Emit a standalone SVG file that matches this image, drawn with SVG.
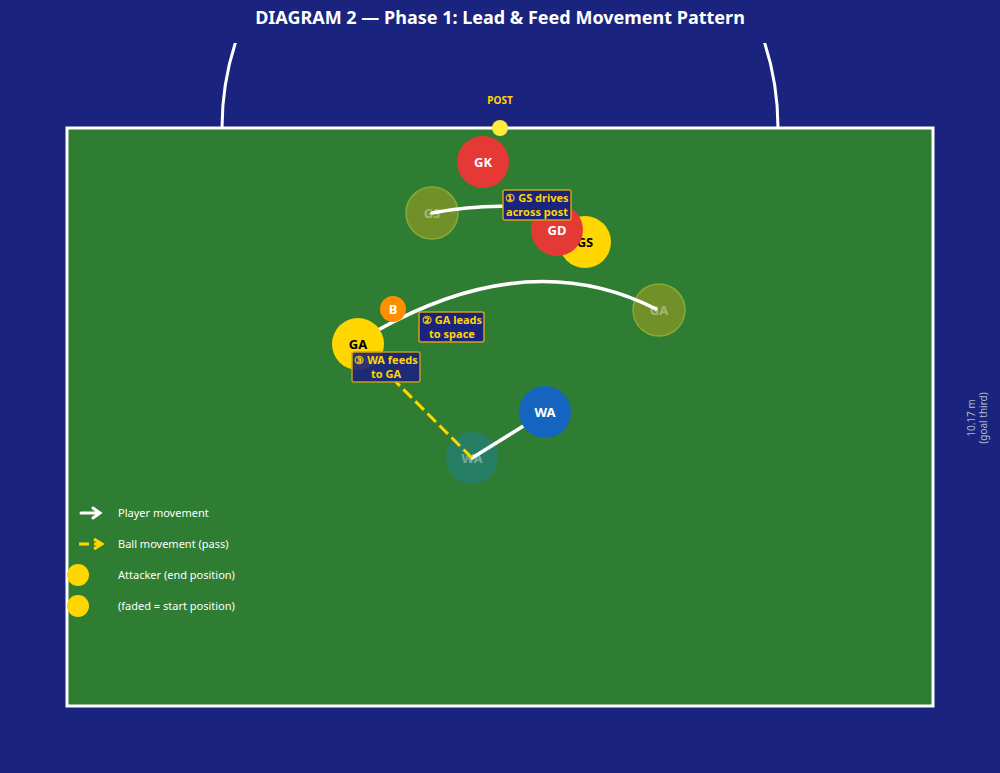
<svg xmlns="http://www.w3.org/2000/svg" width="1000" height="773" viewBox="0 0 1000 773">
<defs>
<style>
text{font-family:"Noto Sans","Open Sans",sans-serif}
.lbl{font-weight:bold;font-size:13px;text-anchor:middle;dominant-baseline:central}
.mv{fill:none;stroke:#fff;stroke-width:3.5;stroke-linecap:round}
.tag{fill:#1a237e;stroke:#d4a017;stroke-width:1.5}
.tt{fill:#ffd600;font-weight:bold;font-size:11px;text-anchor:middle}
.leg{fill:#fff;font-size:11px}
</style>
<clipPath id="c"><rect x="0" y="43" width="1000" height="90"/></clipPath>
</defs>
<rect width="1000" height="773" fill="#1a237e"/>
<text x="500" y="24" text-anchor="middle" fill="#fff" font-weight="bold" font-size="18">DIAGRAM 2 — Phase 1: Lead &amp; Feed Movement Pattern</text>
<circle cx="500" cy="128" r="278" fill="none" stroke="#fff" stroke-width="3" clip-path="url(#c)"/>
<rect x="67" y="128" width="866" height="578" fill="#2e7d32" stroke="#fff" stroke-width="3"/>
<text x="500" y="104" text-anchor="middle" fill="#ffd600" font-weight="bold" font-size="10">POST</text>
<circle cx="500" cy="128" r="8" fill="#ffeb3b"/>
<text transform="translate(975,418) rotate(-90)" text-anchor="middle" fill="#b0bec5" font-size="10"><tspan x="0" y="0">10.17 m</tspan><tspan x="0" y="12">(goal third)</tspan></text>
<g id="start-gs"><circle cx="432" cy="213" r="26" fill="#9e9d24" opacity="0.6" stroke="#c0ca33" stroke-width="1.5"/><text class="lbl" x="432" y="213" fill="#fff" opacity="0.35">GS</text></g>
<g id="start-ga"><circle cx="659" cy="310" r="26" fill="#9e9d24" opacity="0.6" stroke="#c0ca33" stroke-width="1.5"/><text class="lbl" x="659" y="310" fill="#fff" opacity="0.35">GA</text></g>
<g id="start-wa"><circle cx="472" cy="458" r="26" fill="#26806a" opacity="0.9"/><text class="lbl" x="472" y="458" fill="#fff" opacity="0.35">WA</text></g>
<g id="connectors">
<path class="mv" d="M432,213 Q500,200 560,212"/>
<path class="mv" d="M656,309 Q530,245 378,330"/>
<path class="mv" d="M472,458 L525,425"/>
<path d="M472,458 L395,381" fill="none" stroke="#ffd600" stroke-width="3" stroke-dasharray="12,5"/>
</g>
<g id="gk"><circle cx="483" cy="162" r="26" fill="#e53935"/><text class="lbl" x="483" y="162" fill="#fff">GK</text></g>
<g id="gs"><circle cx="585" cy="242" r="26" fill="#ffd600"/><text class="lbl" x="585" y="242" fill="#000">GS</text></g>
<g id="gd"><circle cx="557" cy="230" r="26" fill="#e53935"/><text class="lbl" x="557" y="230" fill="#fff">GD</text></g>
<g id="ga"><circle cx="358" cy="344" r="26" fill="#ffd600"/><text class="lbl" x="358" y="344" fill="#000">GA</text></g>
<g id="ball"><circle cx="393" cy="309" r="13" fill="#ff8f00"/><text class="lbl" x="393" y="309" fill="#fff" font-size="8">B</text></g>
<g id="wa"><circle cx="545" cy="412" r="26" fill="#1565c0"/><text class="lbl" x="545" y="412" fill="#fff">WA</text></g>
<g id="label1"><rect class="tag" x="503" y="190" width="68" height="30" rx="2"/><text class="tt" x="537" y="202">① GS drives</text><text class="tt" x="537" y="216">across post</text></g>
<g id="label2"><rect class="tag" x="419" y="312" width="65" height="30" rx="2"/><text class="tt" x="452" y="324">② GA leads</text><text class="tt" x="452" y="338">to space</text></g>
<g id="label3"><rect class="tag" x="352" y="352" width="68" height="30" rx="2" opacity="0.9"/><text class="tt" x="386" y="364">③ WA feeds</text><text class="tt" x="386" y="378">to GA</text></g>
<g id="legend">
<path d="M81,513 H99 M93,508 L100,513 L93,518" fill="none" stroke="#fff" stroke-width="3" stroke-linecap="round"/>
<path d="M79,544 H89 M94,544 H100 M94,539 L102,544 L94,549" fill="none" stroke="#ffd600" stroke-width="3"/>
<circle cx="78" cy="575" r="11" fill="#ffd600"/>
<circle cx="78" cy="606" r="11" fill="#ffd600"/>
<text class="leg" x="118" y="517">Player movement</text>
<text class="leg" x="118" y="548">Ball movement (pass)</text>
<text class="leg" x="118" y="579">Attacker (end position)</text>
<text class="leg" x="118" y="610">(faded = start position)</text>
</g>
</svg>
